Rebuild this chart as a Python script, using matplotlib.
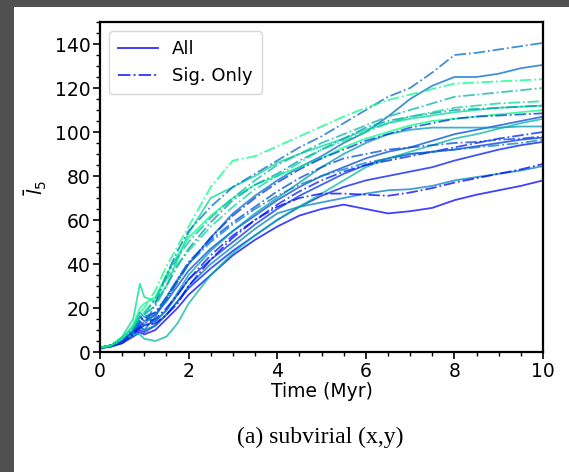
import matplotlib
matplotlib.use("Agg")
import matplotlib.pyplot as plt
from matplotlib.ticker import AutoMinorLocator
from matplotlib.patches import Rectangle

# ---- data ----
time_myr = [0, 0.25, 0.5, 0.75, 0.9, 1.0, 1.25, 1.5, 1.75, 2.0, 2.5, 3.0, 3.5,
            4.0, 4.5, 5.0, 5.5, 6.0, 6.5, 7.0, 7.5, 8.0, 8.5, 9.0, 9.5, 10.0]

run_colors = [0.0, 0.1, 0.2, 0.3, 0.42, 0.5, 0.6, 0.72, 0.85, 1.0]

all_runs = [
    [2, 2.5, 4, 7, 9, 8, 10, 15, 20, 26, 35, 44, 51, 57, 62, 65, 67, 65, 63, 64, 65.5, 69, 71.5, 73.5, 75.5, 78],
    [2, 2.5, 4, 8, 10, 9, 12, 17, 23, 29, 38, 46, 53, 60, 66, 71, 75, 78, 80, 82, 84, 87, 89.5, 92, 94, 95.5],
    [1.5, 2.5, 5, 9, 14, 12, 14, 19, 26, 33, 42, 50, 58, 65, 71, 76, 81, 85, 88, 90, 91, 92, 93.5, 95, 96.5, 97.5],
    [2, 3, 5, 10, 16, 14, 17, 23, 30, 37, 47, 55, 62, 69, 75, 80, 84, 88, 91, 93, 96, 99, 101, 103, 105, 107],
    [2, 3, 5, 9, 11, 10, 16, 25, 33, 40, 52, 63, 71, 78, 84, 89, 95, 100, 107, 115, 121, 125, 125, 126.5, 129, 130.5],
    [2, 3, 5, 9, 12, 10, 12, 17, 23, 30, 40, 48, 56, 63, 66, 68, 70, 72, 73.5, 74, 75.5, 78, 79.5, 81, 82.5, 84.5],
    [2, 3, 6, 12, 18, 16, 14, 19, 27, 35, 46, 55, 63, 70, 77, 84, 90, 95, 99, 101, 102, 102, 102, 102, 102.5, 102.5],
    [2, 3, 5, 8, 8, 6, 5, 7, 13, 22, 35, 45, 53, 60, 66, 72, 78, 84, 88, 91, 94, 97, 99, 101.5, 104, 106],
    [2, 3, 7, 15, 31, 25, 23, 30, 42, 54, 70, 75, 80, 86, 90, 93.5, 97, 101, 104, 106, 107.5, 109, 110, 111, 111.5, 112],
    [2, 3, 6, 12, 20, 22, 25, 35, 44, 52, 62, 70, 76, 80, 84, 88, 93, 97, 100, 103, 105, 106, 107, 108, 109, 110],
]

sig_runs = [
    [2, 3, 5, 8, 11, 12, 13, 17, 22, 30, 42, 52, 60, 66, 70, 72, 72, 71.5, 71, 72.5, 74.5, 77, 79, 81, 83, 85.5],
    [2, 3, 5, 9, 12, 13, 15, 20, 26, 33, 44, 53, 60, 67, 73, 78, 82, 85, 87, 89, 91, 93, 95, 97, 98.5, 100],
    [2, 3, 6, 10, 15, 16, 18, 24, 32, 40, 52, 62, 70, 77, 83, 88, 92, 96, 99, 102, 104, 106, 107, 107.5, 108, 108.5],
    [2, 3, 5, 10, 15, 15, 18, 25, 33, 41, 51, 59, 66, 73, 79, 84, 88, 90, 92, 93, 94, 95, 95.5, 96.5, 97, 98],
    [2, 3, 6, 10, 13, 12, 22, 35, 46, 55, 66, 75, 81, 87, 93, 98, 104, 110, 116, 120, 127, 135, 136, 137.5, 139, 140.5],
    [2, 3, 6, 10, 14, 13, 17, 24, 32, 40, 50, 58, 65, 71, 76, 80, 83, 86, 88, 90, 91, 92, 93, 94, 95, 96.5],
    [2, 3, 6, 11, 16, 17, 21, 30, 39, 47, 59, 69, 76, 81, 87, 92, 97, 102, 105, 107, 108.5, 110, 110.5, 111, 111.5, 112],
    [2, 3, 6, 11, 16, 18, 24, 34, 43, 50, 61, 70, 78, 85, 90, 95, 99, 103, 107, 110, 113, 116, 117, 118, 119, 120],
    [2, 3, 6, 11, 16, 17, 24, 33, 40, 46, 57, 66, 74, 80, 86, 92, 96, 100, 104, 107, 109, 111, 112, 113, 113.5, 114],
    [2, 3, 6, 12, 18, 20, 28, 39, 48, 57, 75, 87, 89, 93.5, 98, 102.5, 107, 111, 114.5, 117, 119.5, 122, 122.5, 123, 123.5, 124],
]

legend_labels = ["All", "Sig. Only"]
x_label = "Time (Myr)"
y_label = r"$\bar{l}_5$"
caption = "(a) subvirial (x,y)"

# ---- figure ----
W, H = 569, 472
fig = plt.figure(figsize=(W / 100, H / 100), dpi=100)
fig.patch.set_facecolor("white")
dark = "#505050"
fig.patches.append(Rectangle((0, 0), 14 / W, 1, transform=fig.transFigure,
                             facecolor=dark, edgecolor="none", zorder=-10))
fig.patches.append(Rectangle((0, 1 - 7 / H), 1, 7 / H, transform=fig.transFigure,
                             facecolor=dark, edgecolor="none", zorder=-10))

ax = fig.add_axes([100 / W, 1 - 352 / H, 443 / W, 330 / H])
cmap = plt.get_cmap("winter")

for c, ys in zip(run_colors, all_runs):
    ax.plot(time_myr, ys, color=cmap(c), lw=1.3, alpha=0.75, ls="-")
for c, ys in zip(run_colors, sig_runs):
    ax.plot(time_myr, ys, color=cmap(c), lw=1.3, alpha=0.75, ls="-.")

h1, = ax.plot([], [], color=cmap(0.0), lw=1.4, alpha=0.75, ls="-")
h2, = ax.plot([], [], color=cmap(0.0), lw=1.4, alpha=0.75, ls="-.")
ax.legend([h1, h2], legend_labels, loc="upper left", fontsize=13,
          handlelength=2.2, borderpad=0.5, labelspacing=0.5, framealpha=0.8)

ax.set_xlim(0, 10)
ax.set_ylim(0, 150)
ax.set_xticks([0, 2, 4, 6, 8, 10])
ax.set_yticks([0, 20, 40, 60, 80, 100, 120, 140])
ax.xaxis.set_minor_locator(AutoMinorLocator(4))
ax.yaxis.set_minor_locator(AutoMinorLocator(4))
ax.tick_params(which="major", length=5, width=1.2, labelsize=13.5, pad=2)
ax.tick_params(which="minor", length=3, width=1.0)
for s in ax.spines.values():
    s.set_linewidth(1.6)

ax.set_xlabel(x_label, fontsize=13.5, labelpad=1)
ax.set_ylabel(y_label, fontsize=14, labelpad=4)

fig.text(320 / W, 1 - 437 / H, caption, ha="center", va="center",
         fontsize=17, family=["Liberation Serif", "DejaVu Serif"])

fig.savefig("out.png", dpi=100, facecolor=fig.get_facecolor())
